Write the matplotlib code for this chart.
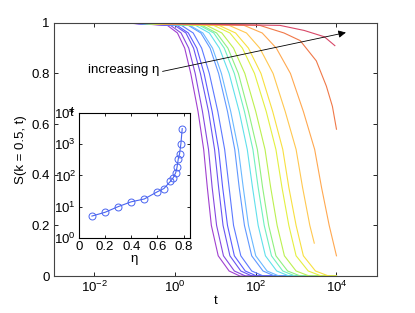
import numpy as np
import matplotlib
matplotlib.use('Agg')
import matplotlib.pyplot as plt
from matplotlib.ticker import NullLocator, FixedLocator

# main panel: relaxation curves S(k=0.5, t), one per eta (log10 t, S pairs)
S_STD = [1.0, 0.99, 0.96, 0.90, 0.80, 0.65, 0.50, 0.35, 0.20, 0.08, 0.02, 0.0, 0.0]

curve_logt = [
    [-1.3, -0.19, 0.06, 0.24, 0.39, 0.57, 0.71, 0.80, 0.90, 1.07, 1.34, 1.61, 4.0],
    [-1.3, -0.11, 0.15, 0.34, 0.50, 0.68, 0.83, 0.92, 1.03, 1.20, 1.47, 1.75, 4.0],
    [-1.3, -0.01, 0.27, 0.46, 0.63, 0.83, 0.98, 1.08, 1.19, 1.36, 1.63, 1.91, 4.0],
    [-1.3, 0.05, 0.33, 0.54, 0.72, 0.92, 1.08, 1.18, 1.30, 1.47, 1.74, 2.03, 4.0],
    [-1.3, 0.16, 0.45, 0.66, 0.85, 1.06, 1.23, 1.34, 1.45, 1.63, 1.90, 2.19, 4.0],
    [-1.3, 0.33, 0.64, 0.87, 1.08, 1.30, 1.48, 1.59, 1.72, 1.90, 2.18, 2.47, 4.0],
    [-1.3, 0.37, 0.69, 0.93, 1.15, 1.38, 1.57, 1.69, 1.82, 2.00, 2.28, 2.58, 4.0],
    [-1.3, 0.51, 0.85, 1.10, 1.34, 1.59, 1.79, 1.92, 2.06, 2.24, 2.52, 2.83, 4.0],
    [-1.3, 0.61, 0.96, 1.22, 1.47, 1.72, 1.93, 2.06, 2.21, 2.39, 2.67, 2.98, 4.0],
    [-1.3, 0.67, 1.03, 1.31, 1.57, 1.82, 2.04, 2.17, 2.32, 2.50, 2.79, 3.11, 4.0],
    [-1.3, 0.78, 1.16, 1.45, 1.73, 2.00, 2.23, 2.37, 2.53, 2.71, 3.00, 3.33, 4.0],
    [-1.3, 0.96, 1.36, 1.67, 1.97, 2.26, 2.50, 2.65, 2.82, 3.00, 3.30, 3.63, 4.0],
    [-1.3, 1.09, 1.50, 1.82, 2.13, 2.42, 2.67, 2.82, 3.00, 3.18, 3.48, 3.81, 4.0],
    [-1.3, 1.34, 1.77, 2.10, 2.43, 2.73, 3.00, 3.16, 3.34, 3.45],
    [-1.3, 1.71, 2.16, 2.51, 2.86, 3.18, 3.46, 3.63, 3.82, 4.0],
    [-1.3, 2.1, 2.7, 3.1, 3.5, 3.75, 3.9, 4.0],
    [-1.3, 2.6, 3.2, 3.7, 3.96],
]
curve_s = [S_STD] * 13 + [
    [1.0, 0.99, 0.96, 0.90, 0.80, 0.65, 0.50, 0.35, 0.20, 0.13],
    [1.0, 0.99, 0.96, 0.90, 0.80, 0.65, 0.50, 0.35, 0.20, 0.08],
    [1.0, 0.99, 0.96, 0.93, 0.85, 0.75, 0.67, 0.58],
    [1.0, 0.99, 0.97, 0.945, 0.91],
]

colors = ['#a040d0', '#8548e0', '#6a55f0', '#5c5cff', '#5c78ff', '#6098ff',
          '#6ab8ff', '#60e0ec', '#70f0c0', '#90f080', '#bcf050', '#e4f040',
          '#f8e040', '#ffc850', '#ffa850', '#f07848', '#d84868']

# inset: tau vs eta
eta = [0.1, 0.2, 0.3, 0.4, 0.5, 0.6, 0.65, 0.7, 0.72, 0.74, 0.75, 0.76, 0.77, 0.78, 0.79]
tau = [5.0, 6.6, 10, 14.3, 17.6, 30, 38, 65, 83, 122, 180, 340, 500, 1050, 3160]

plt.rcParams['font.family'] = ['Liberation Sans', 'DejaVu Sans']
plt.rcParams['mathtext.fontset'] = 'custom'
plt.rcParams['mathtext.rm'] = 'Liberation Sans'
plt.rcParams['mathtext.it'] = 'Liberation Sans:italic'
plt.rcParams['font.size'] = 9.5

fig = plt.figure(figsize=(4.15, 3.13), dpi=100)
ax = fig.add_axes([0.130, 0.118, 0.778, 0.809])

for logt, s, c in zip(curve_logt, curve_s, colors):
    ax.plot(10 ** np.array(logt), s, color=c, lw=0.8)

ax.set_xscale('log')
ax.set_xlim(1e-3, 1e5)
ax.set_ylim(0, 1)
ax.xaxis.set_major_locator(FixedLocator([1e-2, 1, 1e2, 1e4]))
ax.xaxis.set_minor_locator(NullLocator())
ax.set_yticks([0, 0.2, 0.4, 0.6, 0.8, 1])
ax.set_yticklabels(['0', '0.2', '0.4', '0.6', '0.8', '1'])
ax.tick_params(direction='in', top=True, right=True, length=3, width=0.6,
               labelsize=9.5, pad=3)
for sp in ax.spines.values():
    sp.set_linewidth(0.8)
    sp.set_color('#444444')
ax.set_xlabel('t', labelpad=0)
ax.set_ylabel('S(k = 0.5, t)', labelpad=3)

# arrow annotation
ax.text(0.40, 0.812, 'increasing η', ha='right', va='center', fontsize=9.5)
ax.annotate('', xy=(2.0e4, 0.964), xytext=(0.42, 0.806),
            arrowprops=dict(arrowstyle='-|>', color='k', lw=0.6, mutation_scale=11))

ins = fig.add_axes([0.190, 0.240, 0.268, 0.399])
ins.plot(eta, tau, '-o', color='#4a64f0', lw=0.8, markersize=5,
         markerfacecolor='none', markeredgewidth=0.7)
ins.set_yscale('log')
ins.set_xlim(0, 0.85)
ins.set_ylim(1, 1e4)
ins.set_xticks([0, 0.2, 0.4, 0.6, 0.8])
ins.set_xticklabels(['0', '0.2', '0.4', '0.6', '0.8'])
ins.yaxis.set_major_locator(FixedLocator([1, 10, 100, 1000, 10000]))
ins.yaxis.set_minor_locator(NullLocator())
ins.tick_params(direction='in', top=True, right=True, length=2.5, width=0.6,
                labelsize=9.5, pad=2)
for sp in ins.spines.values():
    sp.set_linewidth(0.8)
ins.set_xlabel('η', labelpad=0)
ins.text(-0.07, 1.0, 'τ', transform=ins.transAxes, ha='center', va='center', fontsize=9.5)

fig.savefig('out.png', dpi=100)
